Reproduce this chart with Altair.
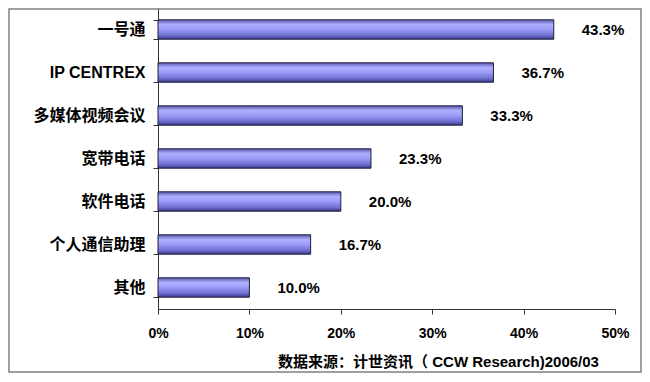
import altair as alt
import pandas as pd

categories = ["一号通", "IP CENTREX", "多媒体视频会议", "宽带电话", "软件电话", "个人通信助理", "其他"]
values = [43.3, 36.7, 33.3, 23.3, 20.0, 16.7, 10.0]
labels = ["43.3%", "36.7%", "33.3%", "23.3%", "20.0%", "16.7%", "10.0%"]
x_ticks = [0, 10, 20, 30, 40, 50]
source_note = "数据来源：计世资讯（ CCW Research)2006/03"

df = pd.DataFrame({"category": categories, "value": values, "label": labels})

FONT = "Liberation Sans, Arial, Noto Sans CJK SC, sans-serif"

y = alt.Y(
    "category:N",
    sort=categories,
    scale=alt.Scale(paddingInner=0.55, paddingOuter=0.275),
    axis=alt.Axis(
        title=None,
        labelFont=FONT,
        labelFontSize=16,
        labelFontWeight="bold",
        labelColor="black",
        labelPadding=8,
        tickSize=5,
        tickBand="extent",
        domainColor="#333333",
        tickColor="#333333",
    ),
)
x = alt.X(
    "value:Q",
    scale=alt.Scale(domain=[0, 50]),
    axis=alt.Axis(
        values=x_ticks,
        labelExpr="datum.value + '%'",
        labelFlush=False,
        grid=False,
        labelFont=FONT,
        labelFontSize=14,
        labelFontWeight="bold",
        labelColor="black",
        labelPadding=12,
        tickSize=5,
        domainColor="#333333",
        tickColor="#333333",
        title=source_note,
        titleFont=FONT,
        titleFontSize=15,
        titleFontWeight="bold",
        titleColor="black",
        titleX=280,
        titleY=52,
        titleAlign="center",
        titleBaseline="middle",
    ),
)

gradient = alt.Gradient(
    gradient="linear",
    x1=0, y1=0, x2=0, y2=1,
    stops=[
        alt.GradientStop(offset=0, color="#5a5ab0"),
        alt.GradientStop(offset=0.25, color="#b0b0ff"),
        alt.GradientStop(offset=0.5, color="#9a9af8"),
        alt.GradientStop(offset=0.8, color="#7070d0"),
        alt.GradientStop(offset=1, color="#383888"),
    ],
)

bars = alt.Chart(df).mark_bar(
    color=gradient, stroke="#1e1e3c", strokeWidth=1
).encode(x=x, y=y)

text = alt.Chart(df).mark_text(
    align="left", baseline="middle", dx=28, font=FONT, fontSize=15,
    fontWeight="bold", color="black"
).encode(x="value:Q", y=alt.Y("category:N", sort=categories), text="label:N")

frame = alt.Chart(alt.Data(values=[{"a": 1}])).mark_rect(
    fill="transparent", stroke="#808080", strokeWidth=1.5
).encode(
    x=alt.value(-149), x2=alt.value(483), y=alt.value(1), y2=alt.value(364)
)

chart = alt.layer(frame, bars, text).properties(
    width=457,
    height=301,
    autosize=alt.AutoSizeParams(type="none"),
    padding={"left": 150, "top": 0, "right": 27, "bottom": 66},
    background="white",
).configure_view(stroke=None)

chart.save("out.html", embed_options={"renderer": "svg", "actions": False})
